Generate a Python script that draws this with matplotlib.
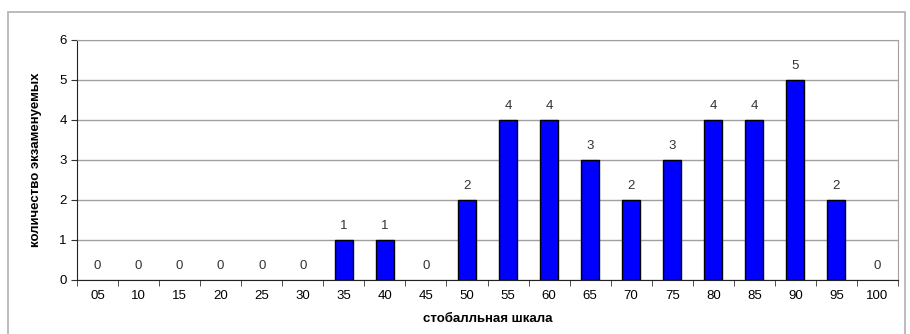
import numpy as np
import matplotlib.pyplot as plt
from matplotlib.patches import Rectangle

plt.rcParams['font.family'] = ['Liberation Sans', 'DejaVu Sans']

scores = ['05', '10', '15', '20', '25', '30', '35', '40', '45', '50',
          '55', '60', '65', '70', '75', '80', '85', '90', '95', '100']
counts = [0, 0, 0, 0, 0, 0, 1, 1, 0, 2, 4, 4, 3, 2, 3, 4, 4, 5, 2, 0]

fig = plt.figure(figsize=(9.1, 3.34), dpi=100)
ax = fig.add_axes([77/910, 1 - 280/334, (898-77)/910, (280-40)/334])

# outer chart border
fig.patches.append(Rectangle((8/910, -0.05), 897/910, 1.05 - 12/334, transform=fig.transFigure,
                             fill=False, edgecolor='#b0b0b0', linewidth=1.2))

x = np.arange(len(scores))
lw = [1 if c > 0 else 0 for c in counts]
bars = ax.bar(x, counts, width=0.44, color='#0000ff', edgecolor='black', linewidth=lw, zorder=3)
for xi, c in zip(x, counts):
    ax.text(xi, c + 0.2, str(c), ha='center', va='bottom', fontsize=9.5, color='#333333')

ax.set_xlim(-0.5, len(scores) - 0.5)
ax.set_ylim(0, 6)
ax.set_yticks(range(7))
ax.yaxis.grid(True, color='#a0a0a0', linewidth=1)
ax.set_axisbelow(True)

ax.set_xticks(x)
ax.set_xticklabels(scores, fontsize=9.5)
ax.set_xticks(np.arange(-0.5, len(scores)), minor=True)
ax.tick_params(axis='x', which='major', length=0, pad=7)
ax.tick_params(axis='x', which='minor', length=4, direction='out', color='#333333')
ax.tick_params(axis='y', labelsize=9.5, length=4, color='#333333')

for s in ['top', 'right']:
    ax.spines[s].set_color('#a0a0a0')
ax.spines['left'].set_color('#222222')
ax.spines['bottom'].set_color('#222222')

ax.set_xlabel('стобалльная шкала', fontsize=9.5, fontweight='bold', labelpad=8)
ax.set_ylabel('количество экзаменуемых', fontsize=9.5, fontweight='bold', labelpad=12)

fig.savefig('out.png', dpi=100)
